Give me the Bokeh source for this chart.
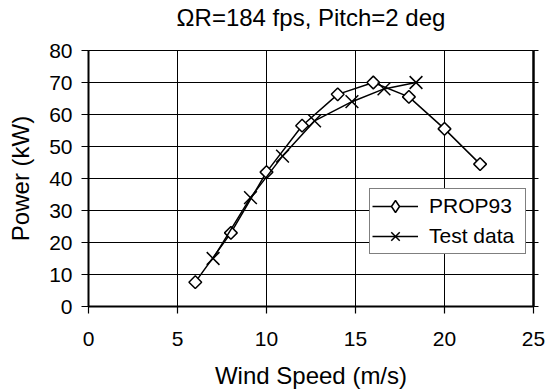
import math
from bokeh.plotting import figure
from bokeh.models import Range1d, LinearAxis, FixedTicker, LegendItem, Legend
from bokeh.embed import file_html
from bokeh.resources import INLINE

title_text = "ΩR=184 fps, Pitch=2 deg"
x_label = "Wind Speed (m/s)"
y_label = "Power (kW)"
x_ticks = [0, 5, 10, 15, 20, 25]
y_ticks = [0, 10, 20, 30, 40, 50, 60, 70, 80]

prop_label = "PROP93"
prop_ws = [6, 8, 10, 12, 14, 16, 18, 20, 22]
prop_kw = [7.6, 23, 42, 56.5, 66.3, 70, 65.5, 55.5, 44.5]

test_label = "Test data"
test_ws = [7, 9.1, 10.9, 12.7, 14.8, 16.6, 18.4]
test_kw = [15, 34, 47, 58, 64, 68, 70]

FONT = "Liberation Sans"

p = figure(width=547, height=391, output_backend="svg", toolbar_location=None,
           x_range=Range1d(0, 25), y_range=Range1d(0, 80),
           min_border_left=88, min_border_right=14, min_border_top=50, min_border_bottom=85)

xax = p.below[0]
yax = p.left[0]

p.outline_line_color = "black"
p.outline_line_width = 1
p.background_fill_color = "white"
p.border_fill_color = "white"

for ax in (xax, yax):
    ax.axis_line_width = 2
    ax.axis_line_color = "black"
    ax.major_tick_out = 7
    ax.major_tick_in = 0
    ax.minor_tick_out = 0
    ax.minor_tick_in = 0
    ax.major_tick_line_width = 1.2
    ax.major_label_text_font = FONT
    ax.major_label_text_font_size = "21px"
    ax.major_label_text_color = "black"
    ax.axis_label_text_font = FONT
    ax.axis_label_text_font_size = "24px"
    ax.axis_label_text_font_style = "normal"
    ax.axis_label_text_color = "black"

xax.ticker = FixedTicker(ticks=x_ticks)
yax.ticker = FixedTicker(ticks=y_ticks)
xax.axis_label = x_label
yax.axis_label = y_label
xax.major_label_standoff = 18
yax.major_label_standoff = 9
xax.axis_label_standoff = 13
yax.axis_label_standoff = 12

# chart title: label of a tick-less top axis, so it can sit well above the frame
top = LinearAxis(ticker=FixedTicker(ticks=[]), bounds=(0, 23.5))
top.axis_line_color = None
top.major_tick_out = 0
top.major_tick_in = 0
top.minor_tick_out = 0
top.minor_tick_in = 0
top.major_label_standoff = 0
top.axis_label = title_text
top.axis_label_text_font = FONT
top.axis_label_text_font_size = "24px"
top.axis_label_text_font_style = "normal"
top.axis_label_text_color = "black"
top.axis_label_standoff = 20
p.add_layout(top, "above")

# right border with outward tick marks only (no labels)
right = LinearAxis(ticker=FixedTicker(ticks=[], minor_ticks=y_ticks))
right.axis_line_width = 2.5
right.axis_line_color = "black"
right.major_tick_out = 0
right.major_tick_in = 0
right.minor_tick_out = 5
right.minor_tick_in = 0
right.minor_tick_line_width = 1
right.minor_tick_line_color = "black"
p.add_layout(right, "right")

p.grid.grid_line_color = "black"
p.grid.grid_line_width = 1
p.xgrid.ticker = FixedTicker(ticks=x_ticks)
p.ygrid.ticker = FixedTicker(ticks=y_ticks)

prop_line = p.line(prop_ws, prop_kw, line_color="black", line_width=1.5)
p.scatter(prop_ws, prop_kw, marker="square", angle=math.pi / 4, size=9,
          fill_color="white", line_color="black", line_width=1.5)
# diamond sample used by the legend (legend samples are always drawn unrotated)
prop_key = p.scatter(prop_ws, prop_kw, marker="diamond", size=13,
                     fill_color="white", line_color="black", line_width=1.5,
                     visible=False)

test_line = p.line(test_ws, test_kw, line_color="black", line_width=1.5)
test_pts = p.scatter(test_ws, test_kw, marker="x", size=18,
                     line_color="black", line_width=1.5)

lg = Legend(items=[LegendItem(label=prop_label, renderers=[prop_line, prop_key]),
                   LegendItem(label=test_label, renderers=[test_line, test_pts])])
p.add_layout(lg, "center")
lg.location = (281, 52)
lg.margin = 0
lg.padding = 2
lg.spacing = 0
lg.glyph_width = 46
lg.glyph_height = 30
lg.label_height = 30
lg.label_width = 94
lg.label_standoff = 11
lg.label_text_font = FONT
lg.label_text_font_size = "21px"
lg.label_text_color = "black"
lg.border_line_color = "black"
lg.border_line_width = 1
lg.background_fill_color = "white"
lg.background_fill_alpha = 1

open("out.html", "w").write(file_html(p, INLINE))
